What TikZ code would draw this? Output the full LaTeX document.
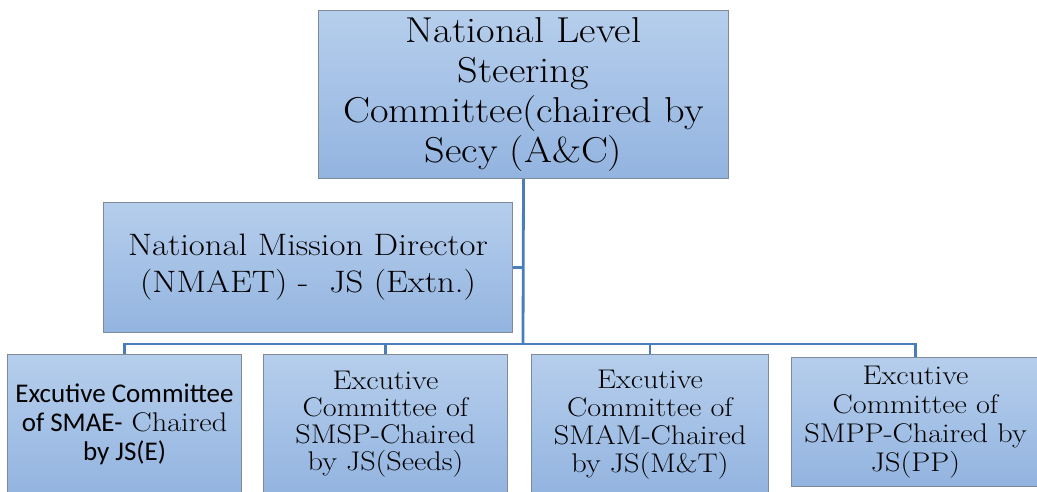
\documentclass[tikz,border=0pt]{standalone}
\usepackage{fontspec}
\setmainfont{Latin Modern Roman}[FakeStretch=1.12]
\newfontfamily\calib{Carlito}
\definecolor{boxtop}{HTML}{B6CEEC}
\definecolor{boxbot}{HTML}{93B4E0}
\definecolor{boxline}{HTML}{7E8B98}
\definecolor{linkblue}{HTML}{4A7EBB}
\tikzset{
  box/.style={draw=boxline, line width=1pt, top color=boxtop, bottom color=boxbot,
    align=center, inner sep=0pt, anchor=north west},
  link/.style={draw=linkblue, line width=2.8pt},
}
\begin{document}
\begin{tikzpicture}[x=1pt, y=-1pt]
\useasboundingbox (0,0) rectangle (1037,491);
\clip (0,0) rectangle (1037,491);
\node (top) [box, minimum width=410pt, minimum height=168pt,
  font=\fontsize{36}{40}\selectfont] at (318,10) {
National Level \\
	Steering \\
	Committee(chaired by \\
	Secy (A\&C)
};
\node (mid) [box, minimum width=409pt, minimum height=130pt,
  font=\fontsize{31}{37}\selectfont] at (103,202) {
National Mission Director \\
	(NMAET) -\ \ JS (Extn.)
};
\coordinate (bus) at (523,344);
\node (sma) [box, minimum width=234pt, minimum height=140pt,
  font=\fontsize{27}{29}\selectfont] at (7,354) {
{\calib Excutive Committee} \\
	{\calib of SMAE-} Chaired \\
	{\calib by JS(E)}
};
\node (smsp) [box, minimum width=244pt, minimum height=140pt,
  font=\fontsize{27}{27}\selectfont] at (263,354) {
Excutive \\
	Committee of \\
	SMSP-Chaired \\
	by JS(Seeds)
};
\node (smam) [box, minimum width=237pt, minimum height=140pt,
  font=\fontsize{27}{28}\selectfont] at (531,354) {
Excutive \\
	Committee of \\
	SMAM-Chaired \\
	by JS(M\&T)
};
\node (smpp) [box, minimum width=248pt, minimum height=129pt,
  font=\fontsize{27}{29}\selectfont] at (791,357) {
Excutive \\
	Committee of \\
	SMPP-Chaired by \\
	JS(PP)
};
\draw [link] (top.south) -- (bus);
\draw [link] (mid.east) -- (mid.east -| bus);
\draw [link] (sma.north) |- (bus) -| (smpp.north);
\draw [link] (smsp.north) -- (smsp.north |- bus);
\draw [link] (smam.north) -- (smam.north |- bus);
\end{tikzpicture}
\end{document}
